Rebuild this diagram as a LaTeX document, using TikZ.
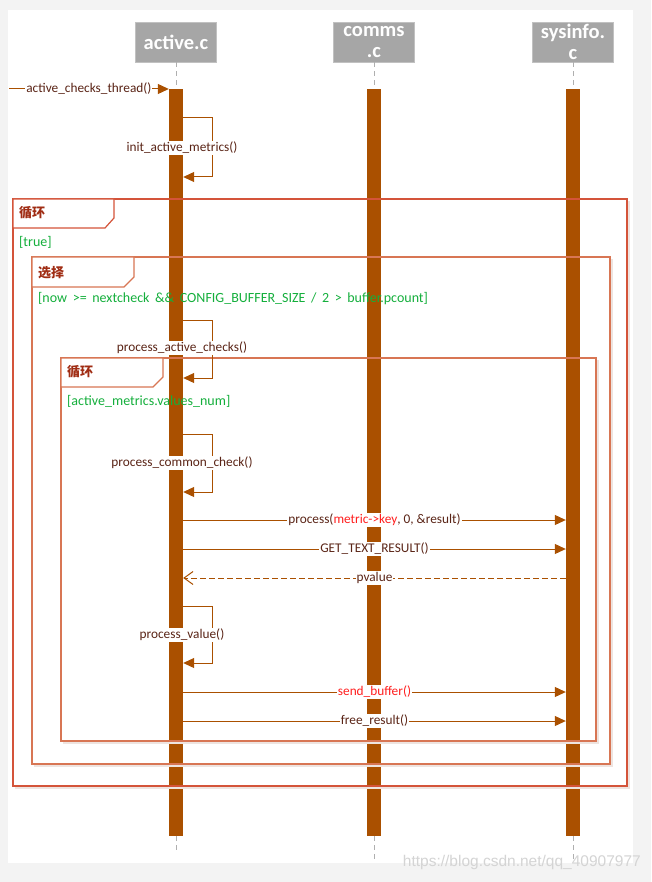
\documentclass[tikz,border=0pt]{standalone}
\usepackage{fontspec}
\setmainfont{Carlito}
\newfontfamily\cjk{Noto Sans CJK SC}
\newfontfamily\wmfont{Liberation Sans}
\usetikzlibrary{arrows.meta}
\definecolor{bg}{RGB}{243,243,243}
\definecolor{barc}{RGB}{170,80,0}
\definecolor{framec}{RGB}{216,118,84}
\definecolor{framer}{RGB}{212,84,58}
\definecolor{headc}{RGB}{166,166,166}
\definecolor{msgtxt}{RGB}{90,36,22}
\definecolor{guardc}{RGB}{20,175,60}
\definecolor{tagtxt}{RGB}{160,45,20}
\definecolor{redt}{RGB}{255,30,30}
\definecolor{lifec}{RGB}{175,175,175}
\definecolor{shadowc}{RGB}{238,228,224}
\definecolor{wmc}{RGB}{212,212,212}
\begin{document}
\begin{tikzpicture}[x=1pt,y=-1pt,
  header/.style={fill=headc, draw=headc!70!white, minimum width=81pt, minimum height=40pt,
    text=white, font=\fontsize{20.5}{21.5}\selectfont\bfseries, align=center, inner sep=0pt},
  actbar/.style={fill=barc, draw=none, minimum width=14pt, minimum height=747pt, inner sep=0pt, anchor=north},
  lifeline/.style={draw=lifec, dash pattern=on 5pt off 4pt, line width=0.8pt},
  msg/.style={draw=barc, line width=1pt, -{Triangle[length=11pt,width=10pt]}},
  reply/.style={draw=barc, line width=1pt, dash pattern=on 6pt off 3pt, -{Straight Barb[length=9pt,width=13pt]}},
  lbl/.style={fill=white, text=msgtxt, font=\fontsize{13.3}{14}\selectfont, inner sep=1pt},
  guard/.style={text=guardc, font=\fontsize{14}{15}\selectfont, anchor=west, inner sep=0pt},
  frm/.style={draw=framec, line width=1.2pt},
  shd/.style={draw=shadowc, line width=2pt},
  tagtext/.style={text=tagtxt, font=\cjk\fontsize{13}{14}\selectfont\bfseries, anchor=west, inner sep=0pt},
]
\useasboundingbox (0,0) rectangle (651,882);
\fill[bg] (0,0) rectangle (651,882);
\fill[white] (8,10) rectangle (633,863);

% headers
\node[header] (hA) at (176,42) {active.c};
\node[header] (hC) at (374,42) {comms\\.c};
\node[header] (hS) at (573,42) {sysinfo.\\c};

% activation bars
\node[actbar] (barA) at (176,89) {};
\node[actbar] (barC) at (374,89) {};
\node[actbar] (barS) at (573,89) {};

% lifelines
\draw[lifeline] (hA.south) -- (barA.north);
\draw[lifeline] (hC.south) -- (barC.north);
\draw[lifeline] (hS.south) -- (barS.north);
\coordinate (endA) at (176,852);
\coordinate (endC) at (374,861);
\coordinate (endS) at (573,861);
\draw[lifeline] (barA.south) -- (endA);
\draw[lifeline] (barC.south) -- (endC);
\draw[lifeline] (barS.south) -- (endS);

% frame shadows
\draw[shd] (15,788) -- (629,788) -- (629,201);
\draw[shd] (34,766) -- (612,766) -- (612,259);
\draw[shd] (63,743) -- (598,743) -- (598,360);

% outer loop frame
\draw[frm, draw=framer] (13,199) rectangle (627,786);
\draw[frm, draw=framer, fill=white] (13,199) -- (114,199) -- (114,218) -- (105,228) -- (13,228) -- cycle;
\node[tagtext] (t1) at (19,213) {循环};
\node[guard] (g1) at (19,242) {[true]};

% alt frame
\draw[frm] (32,257) rectangle (610,764);
\draw[frm, fill=white] (32,257) -- (134,257) -- (134,277) -- (124,287) -- (32,287) -- cycle;
\node[tagtext] (t2) at (38,273) {选择};
\node[guard] (g2) at (38,299) {\spaceskip=5.6pt [now >= nextcheck \&\& CONFIG\_BUFFER\_SIZE / 2 > buffer.pcount]};

% inner loop frame
\draw[frm] (61,358) rectangle (596,741);
\draw[frm, fill=white] (61,358) -- (163,358) -- (163,377) -- (153,387) -- (61,387) -- cycle;
\node[tagtext] (t3) at (67,372) {循环};
\node[guard] (g3) at (67,401) {[active\_metrics.values\_num]};

% messages
\coordinate (start) at (9,89);
\draw[msg] (start) -- (barA.west |- start) node[lbl, midway] (m0) {active\_checks\_thread()};

\draw[msg] (barA.east |- 0,118) -- ++(29,0) |- (barA.east |- 0,177);
\node[lbl] (m1) at (182,148) {init\_active\_metrics()};

\draw[msg] (barA.east |- 0,320) -- ++(29,0) |- (barA.east |- 0,378);
\node[lbl] (m2) at (182,348) {process\_active\_checks()};

\draw[msg] (barA.east |- 0,434) -- ++(29,0) |- (barA.east |- 0,492);
\node[lbl] (m3) at (182,463) {process\_common\_check()};

\draw[msg] (barA.east |- 0,520) -- (barS.west |- 0,520)
  node[lbl, midway] (m4) {process(\textcolor{redt}{metric->key}, 0, \&result)};
\draw[msg] (barA.east |- 0,549) -- (barS.west |- 0,549)
  node[lbl, midway] (m5) {GET\_TEXT\_RESULT()};
\draw[reply] (barS.west |- 0,578) -- (barA.east |- 0,578)
  node[lbl, midway] (m6) {pvalue};

\draw[msg] (barA.east |- 0,606) -- ++(29,0) |- (barA.east |- 0,663);
\node[lbl] (m7) at (182,635) {process\_value()};

\draw[msg] (barA.east |- 0,692) -- (barS.west |- 0,692)
  node[lbl, midway, text=redt] (m8) {send\_buffer()};
\draw[msg] (barA.east |- 0,721) -- (barS.west |- 0,721)
  node[lbl, midway] (m9) {free\_result()};

% watermark
\node[text=wmc, font=\wmfont\fontsize{15.5}{16}\selectfont, anchor=east, inner sep=0pt] (wm) at (641,862) {https://blog.csdn.net/qq\_40907977};
\end{tikzpicture}
\end{document}
